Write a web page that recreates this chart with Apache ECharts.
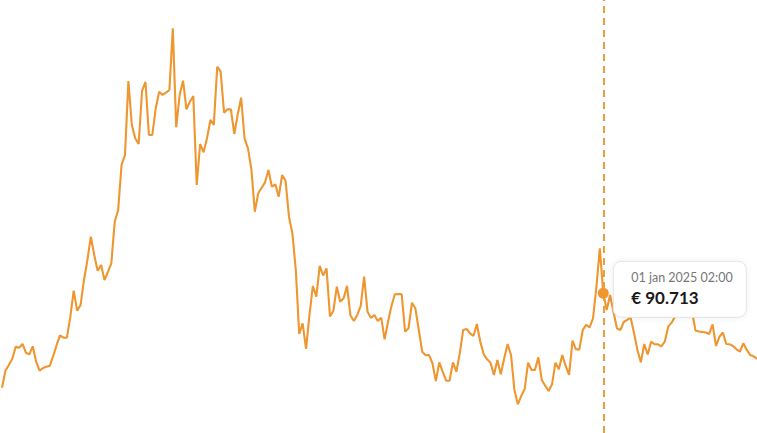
<!DOCTYPE html>
<html>
<head>
<meta charset="utf-8">
<script src="https://cdn.jsdelivr.net/npm/echarts@6/dist/echarts.min.js"></script>
<style>
  html, body { margin: 0; padding: 0; background: #fff; }
  #chart { width: 757px; height: 433px; }
</style>
</head>
<body>
<div id="chart"></div>
<script>
// ---- data ----
const prices = [
  80.33, 82.20, 82.83, 83.49, 84.84, 84.73, 85.14, 84.18, 84.00, 84.88,
  83.19, 82.20, 82.50, 82.64, 82.75, 83.82, 85.03, 86.09, 85.83, 85.83,
  88.14, 91.00, 88.80, 89.43, 92.18, 94.38, 96.94, 94.93, 93.20, 93.83,
  92.18, 93.06, 94.01, 98.59, 99.88, 104.83, 105.93, 114.07, 109.23, 107.76,
  107.14, 112.97, 113.96, 108.13, 108.13, 111.06, 112.89, 112.53, 112.78, 113.08,
  119.86, 108.97, 112.53, 114.10, 110.95, 111.79, 112.42, 102.63, 107.14, 106.22,
  107.76, 109.78, 109.23, 115.64, 115.09, 110.58, 110.95, 110.95, 108.24, 110.40,
  112.23, 107.76, 106.66, 104.35, 99.69, 101.71, 102.33, 102.92, 104.28, 102.44,
  102.70, 101.34, 103.73, 103.10, 99.14, 97.31, 93.28, 86.24, 87.41, 84.59,
  88.33, 91.52, 90.34, 93.72, 92.67, 93.46, 88.18, 88.77, 91.44, 89.79,
  90.16, 91.54, 88.27, 87.67, 88.33, 89.32, 92.54, 88.69, 88.00, 88.33,
  87.67, 88.03, 85.65, 87.59, 89.32, 90.60, 90.64, 90.60, 86.49, 86.86,
  89.68, 89.06, 86.68, 84.29, 83.89, 83.93, 83.01, 81.07, 83.12, 82.09,
  81.10, 81.10, 83.12, 82.09, 84.11, 86.68, 86.79, 86.31, 86.02, 87.34,
  85.39, 84.00, 83.45, 83.08, 81.73, 83.38, 81.80, 83.56, 85.14, 83.93,
  80.08, 78.50, 79.42, 80.19, 83.08, 82.28, 82.28, 83.67, 81.18, 80.55,
  79.97, 80.70, 83.08, 82.35, 83.93, 82.72, 81.73, 85.50, 84.55, 84.55,
  86.68, 87.23, 86.97, 87.96, 91.44, 95.66, 90.713, 88.88, 90.53, 88.66,
  86.86, 86.68, 87.56, 87.78, 88.05, 86.35, 84.48, 83.12, 85.14, 83.98,
  85.39, 85.11, 85.10, 84.88, 85.39, 87.04, 87.48, 88.14, 89.32, 90.20,
  89.76, 90.42, 88.66, 86.62, 86.51, 86.46, 86.40, 86.24, 87.30, 84.92,
  85.91, 86.40, 85.14, 85.10, 84.92, 84.55, 84.31, 85.21, 84.48, 83.93,
  83.78, 83.51
];
const startDate = [2024, 6, 9];          // 09 jul 2024
const timeLabel = '02:00';
const monthNames = ['jan','feb','mrt','apr','mei','jun','jul','aug','sep','okt','nov','dec'];
const highlightIndex = 176;             // 01 jan 2025 02:00

const categories = prices.map((_, i) => {
  const d = new Date(Date.UTC(startDate[0], startDate[1], startDate[2] + i));
  const dd = String(d.getUTCDate()).padStart(2, '0');
  return dd + ' ' + monthNames[d.getUTCMonth()] + ' ' + d.getUTCFullYear() + ' ' + timeLabel;
});

// ---- chart ----
const ORANGE = '#EE9630';
const chart = echarts.init(document.getElementById('chart'), null, { renderer: 'svg' });

chart.setOption({
  animation: false,
  grid: { left: 2, right: 0, top: 0, bottom: 0 },
  xAxis: {
    type: 'category', data: categories, boundaryGap: false, show: false
  },
  yAxis: {
    type: 'value', min: 75.346, max: 122.976, show: false, splitLine: { show: false }
  },
  series: [{
    type: 'line',
    data: prices,
    showSymbol: false,
    symbol: 'none',
    lineStyle: { color: ORANGE, width: 2.1 },
    itemStyle: { color: ORANGE },
    z: 2,
    markLine: {
      silent: true,
      symbol: ['none', 'none'],
      label: { show: false },
      lineStyle: { color: '#E99F3C', width: 2, type: [7, 5] },
      data: [{ xAxis: highlightIndex }]
    },
    markPoint: {
      silent: true,
      symbol: 'circle',
      symbolSize: 11,
      label: { show: false },
      itemStyle: { color: ORANGE },
      data: [{ coord: [highlightIndex, prices[highlightIndex]] }]
    }
  }]
});

const pt = chart.convertToPixel({ seriesIndex: 0 }, [highlightIndex, prices[highlightIndex]]);
const boxX = pt[0] + 10, boxY = pt[1] - 32;
chart.setOption({
  graphic: [
    { type: 'rect', x: boxX, y: boxY, z: 100, zlevel: 1,
      shape: { x: 0, y: 0, width: 133, height: 56, r: 8 },
      style: { fill: '#ffffff', stroke: '#e3e3e3', lineWidth: 1,
               shadowBlur: 6, shadowColor: 'rgba(0,0,0,0.06)' } },
    { type: 'text', x: boxX + 18, y: boxY + 16, z: 101, zlevel: 1,
      style: { text: categories[highlightIndex], fill: '#777777',
               font: '12.5px Lato', verticalAlign: 'middle' } },
    { type: 'text', x: boxX + 18, y: boxY + 36, z: 101, zlevel: 1,
      style: { text: '€ ' + prices[highlightIndex].toFixed(3), fill: '#1a1a1a',
               font: 'bold 17px Lato', verticalAlign: 'middle' } }
  ]
});
</script>
</body>
</html>
